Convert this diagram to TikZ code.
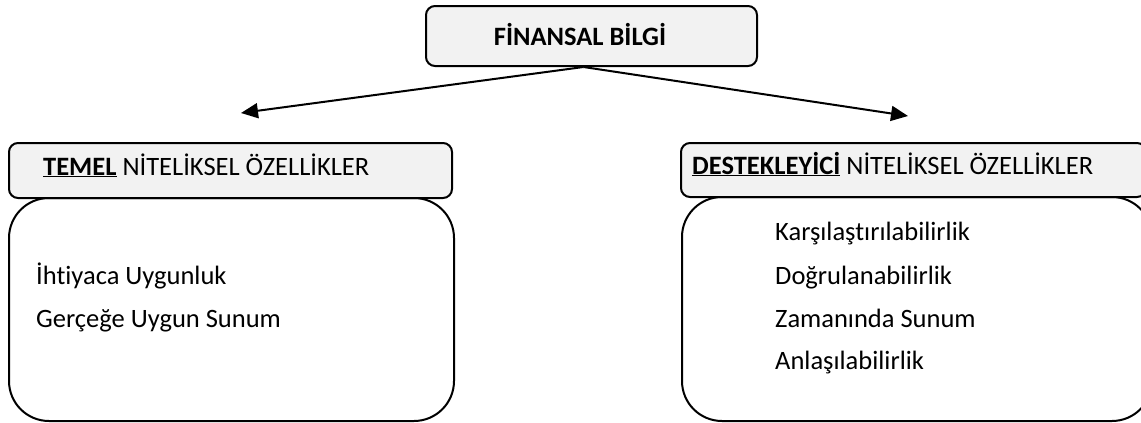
\documentclass[tikz,border=0pt]{standalone}
\usepackage{fontspec}
\setmainfont{Carlito}[Ligatures=NoCommon]
\usetikzlibrary{arrows.meta}
\definecolor{baslikgri}{HTML}{F2F2F2}

\begin{document}
\begin{tikzpicture}[x=1pt,y=1pt,
  kutu/.style={draw=black,line width=2pt,fill=baslikgri,rounded corners=9pt,inner sep=0pt},
  govde/.style={draw=black,line width=2pt,fill=white,rounded corners=40pt,inner sep=0pt},
  yazi/.style={inner sep=0pt,font=\fontsize{26.5}{32}\selectfont},
  ok/.style={line width=2pt,-{Triangle[length=17pt,width=15pt]}}]
\useasboundingbox (0,0) rectangle (1141,-423);
\clip (0,0) rectangle (1141,-423);
\node [kutu,minimum width=331pt,minimum height=60pt] (finans) at (591.5,-36) {};
\node [yazi,anchor=base] (finansyazi) at (580,-45) {\textbf{FİNANSAL BİLGİ}};
\node [govde,minimum width=445pt,minimum height=223pt] (temelgovde) at (231.5,-309.5) {};
\node [govde,minimum width=470pt,minimum height=224pt] (destekgovde) at (917,-309) {};
\node [kutu,minimum width=443pt,minimum height=55pt] (temel) at (230.5,-170.5) {};
\node [kutu,minimum width=465pt,minimum height=54pt] (destek) at (913.5,-170) {};
\node [yazi,anchor=base west] (temelyazi) at (43,-175) {\textbf{\underline{TEMEL}} NİTELİKSEL ÖZELLİKLER};
\node [yazi,anchor=base west] (destekyazi) at (692,-174) {\textbf{\underline{DESTEKLEYİCİ}} NİTELİKSEL ÖZELLİKLER};
\node [yazi,anchor=base west] (ihtiyac) at (36,-284) {İhtiyaca Uygunluk};
\node [yazi,anchor=base west] (gercege) at (36,-327) {Gerçeğe Uygun Sunum};
\node [yazi,anchor=base west] (karsilas) at (775,-240) {Karşılaştırılabilirlik};
\node [yazi,anchor=base west] (dogrula) at (775,-284) {Doğrulanabilirlik};
\node [yazi,anchor=base west] (zaman) at (775,-327) {Zamanında Sunum};
\node [yazi,anchor=base west] (anlas) at (775,-369) {Anlaşılabilirlik};
\coordinate (soluc) at (241,-113);
\coordinate (saguc) at (908,-116);
\draw [ok] ([xshift=-8pt]finans.south) -- (soluc);
\draw [ok] ([xshift=-8pt]finans.south) -- (saguc);
\end{tikzpicture}
\end{document}
